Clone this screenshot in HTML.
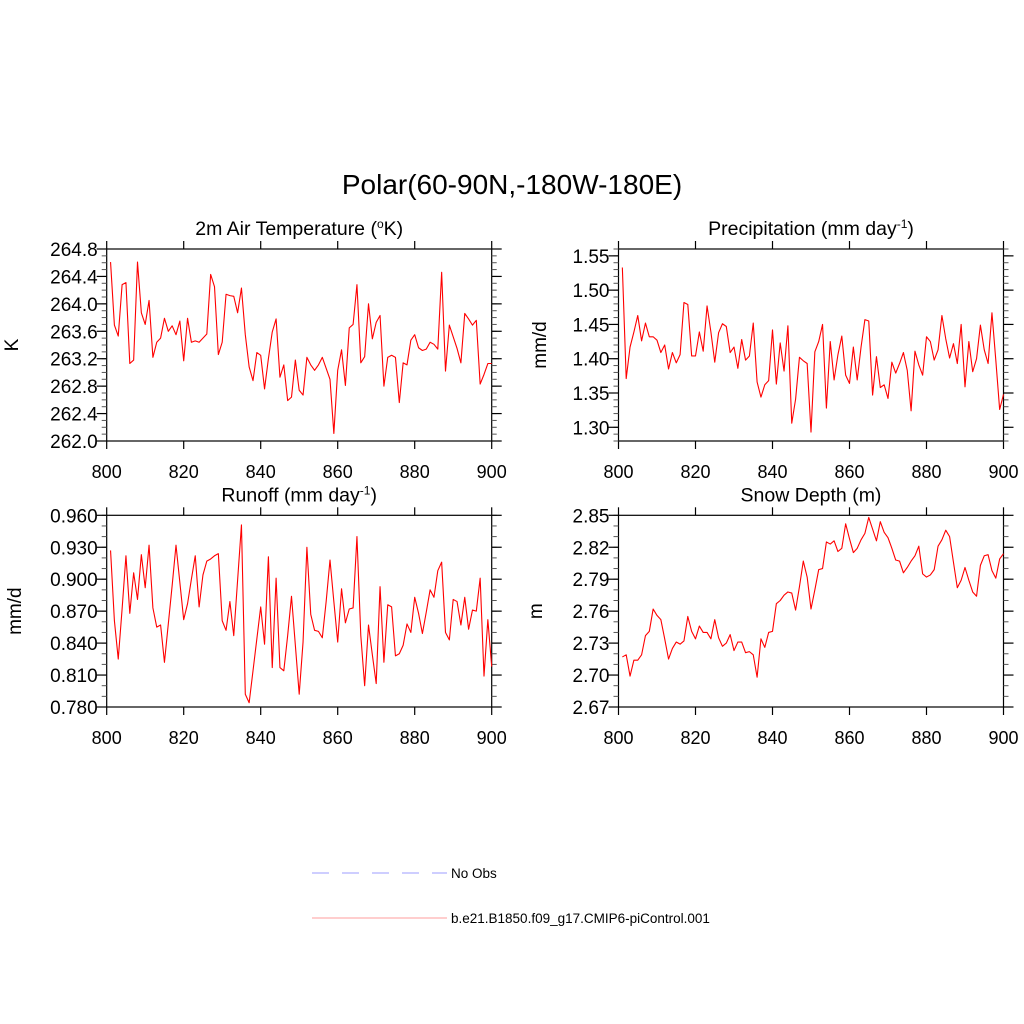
<!DOCTYPE html>
<html><head><meta charset="utf-8"><style>
html,body{margin:0;padding:0;background:#fff;}
svg{display:block;font-family:"Liberation Sans",sans-serif;}
</style></head><body>
<svg id="chart" width="1024" height="1024" viewBox="0 0 1024 1024" xmlns="http://www.w3.org/2000/svg">
<text x="512" y="194" font-size="28" text-anchor="middle">Polar(60-90N,-180W-180E)</text>
<g>
<line x1="312" y1="873" x2="447" y2="873" stroke="#b0b0ff" stroke-width="1.3" stroke-dasharray="17,13"/>
<text x="451" y="878" font-size="13.5">No Obs</text>
<line x1="312" y1="918" x2="447" y2="918" stroke="#ffb0b0" stroke-width="1.3"/>
<text x="451" y="923" font-size="13.5">b.e21.B1850.f09_g17.CMIP6-piControl.001</text>
</g>
</svg>
<script>
const years = [];
for (let y = 801; y <= 900; y++) years.push(y);
const xTicks = [800, 820, 840, 860, 880, 900];

const tempValues = [264.61,263.69,263.53,264.28,264.31,263.13,263.18,264.61,263.87,263.70,264.05,263.22,263.44,263.50,263.79,263.60,263.68,263.55,263.75,263.17,263.79,263.44,263.46,263.44,263.50,263.56,264.43,264.25,263.26,263.44,264.14,264.12,264.11,263.87,264.23,263.55,263.08,262.88,263.29,263.25,262.76,263.20,263.59,263.78,262.93,263.11,262.59,262.64,263.18,262.74,262.67,263.22,263.11,263.03,263.11,263.22,263.06,262.90,262.11,263.03,263.33,262.81,263.65,263.70,264.28,263.14,263.23,264.00,263.49,263.73,263.83,262.80,263.22,263.25,263.22,262.56,263.14,263.11,263.47,263.55,263.36,263.32,263.34,263.44,263.41,263.34,264.46,263.02,263.69,263.52,263.35,263.14,263.86,263.78,263.69,263.76,262.83,262.97,263.13,263.13];
const precipValues = [1.533,1.371,1.417,1.439,1.463,1.426,1.452,1.432,1.432,1.427,1.409,1.420,1.385,1.409,1.394,1.406,1.482,1.479,1.404,1.404,1.439,1.411,1.477,1.439,1.395,1.438,1.451,1.447,1.409,1.417,1.386,1.428,1.398,1.404,1.452,1.366,1.344,1.362,1.368,1.442,1.363,1.423,1.382,1.448,1.306,1.341,1.402,1.397,1.393,1.293,1.410,1.425,1.450,1.328,1.425,1.369,1.406,1.433,1.376,1.364,1.417,1.369,1.417,1.457,1.455,1.347,1.403,1.358,1.362,1.342,1.395,1.379,1.393,1.409,1.383,1.324,1.411,1.391,1.376,1.432,1.425,1.398,1.413,1.463,1.429,1.401,1.422,1.393,1.450,1.359,1.425,1.381,1.400,1.449,1.413,1.393,1.467,1.398,1.326,1.348];
const runoffValues = [0.927,0.861,0.825,0.872,0.922,0.868,0.906,0.881,0.923,0.892,0.932,0.873,0.855,0.857,0.822,0.858,0.894,0.932,0.897,0.862,0.877,0.900,0.922,0.874,0.904,0.917,0.919,0.922,0.924,0.861,0.852,0.879,0.847,0.899,0.951,0.792,0.784,0.814,0.844,0.874,0.839,0.921,0.817,0.901,0.817,0.814,0.847,0.884,0.838,0.792,0.841,0.930,0.867,0.852,0.851,0.845,0.879,0.918,0.879,0.841,0.891,0.859,0.872,0.873,0.940,0.847,0.800,0.857,0.829,0.802,0.893,0.822,0.876,0.874,0.828,0.830,0.838,0.858,0.850,0.883,0.868,0.849,0.869,0.890,0.883,0.908,0.916,0.850,0.843,0.881,0.879,0.857,0.883,0.853,0.871,0.870,0.901,0.809,0.862,0.818];
const snowValues = [2.717,2.719,2.699,2.714,2.714,2.719,2.737,2.741,2.762,2.756,2.752,2.734,2.715,2.725,2.731,2.729,2.732,2.755,2.741,2.734,2.746,2.740,2.740,2.734,2.752,2.735,2.727,2.730,2.738,2.723,2.731,2.731,2.721,2.722,2.719,2.698,2.734,2.726,2.740,2.741,2.767,2.770,2.775,2.778,2.777,2.761,2.783,2.807,2.792,2.762,2.780,2.799,2.800,2.825,2.823,2.826,2.816,2.819,2.842,2.828,2.815,2.819,2.827,2.833,2.848,2.837,2.826,2.844,2.834,2.829,2.819,2.808,2.807,2.796,2.801,2.807,2.812,2.821,2.795,2.792,2.794,2.799,2.821,2.827,2.836,2.830,2.806,2.782,2.789,2.801,2.789,2.778,2.774,2.803,2.812,2.813,2.798,2.791,2.809,2.814];

const tempTicks = [262.0,262.4,262.8,263.2,263.6,264.0,264.4,264.8];
const precipTicks = [1.30,1.35,1.40,1.45,1.50,1.55];
const runoffTicks = [0.780,0.810,0.840,0.870,0.900,0.930,0.960];
const snowTicks = [2.67,2.70,2.73,2.76,2.79,2.82,2.85];

const NS = 'http://www.w3.org/2000/svg';
const svg = document.getElementById('chart');
function mk(tag, attrs, parent) {
  const e = document.createElementNS(NS, tag);
  for (const k in attrs) e.setAttribute(k, attrs[k]);
  parent.appendChild(e);
  return e;
}
const panels = [
  {key:'temperature', L:106.7, R:491.7, T:249, B:441, ymin:262.0, ymax:264.8, minor:0.1, ticks:tempTicks, dec:1, vals:tempValues, ylab:'K', ylx:18, title:['2m Air Temperature (','o','K)']},
  {key:'precipitation', L:618.5, R:1003.5, T:249, B:441, ymin:1.28, ymax:1.56, minor:0.01, ticks:precipTicks, dec:2, vals:precipValues, ylab:'mm/d', ylx:546, title:['Precipitation (mm day','-1',')']},
  {key:'runoff', L:106.7, R:491.7, T:515.3, B:707, ymin:0.78, ymax:0.96, minor:0.01, ticks:runoffTicks, dec:3, vals:runoffValues, ylab:'mm/d', ylx:21, title:['Runoff (mm day','-1',')']},
  {key:'snow-depth', L:618.5, R:1003.5, T:515.3, B:707, ymin:2.67, ymax:2.85, minor:0.01, ticks:snowTicks, dec:2, vals:snowValues, ylab:'m', ylx:542, title:['Snow Depth (m)','','']}
];
panels.forEach(p => {
  const g = mk('g', {}, svg);
  
  
  const xs = v => p.L + (v - 800) / 100 * (p.R - p.L);
  const ys = v => p.B - (v - p.ymin) / (p.ymax - p.ymin) * (p.B - p.T);
  const t = mk('text', {x:(p.L+p.R)/2, y:p.T-14, 'font-size':19.5, 'text-anchor':'middle'}, g);
  
  
  t.appendChild(document.createTextNode(p.title[0]));
  if (p.title[1]) {
    const s = mk('tspan', {dy:-7, 'font-size':12}, t);
    s.textContent = p.title[1];
    const r = mk('tspan', {dy:7}, t);
    r.textContent = p.title[2];
  }
  const fr = mk('rect', {x:p.L, y:p.T, width:p.R-p.L, height:p.B-p.T, fill:'none', stroke:'#000', 'stroke-width':1.2}, g);
  
  
  xTicks.forEach(v => {
    const x = xs(v);
    mk('line', {x1:x, y1:p.B, x2:x, y2:p.B+8, stroke:'#000', 'stroke-width':1.2}, g);
    mk('line', {x1:x, y1:p.T, x2:x, y2:p.T-8, stroke:'#000', 'stroke-width':1.2}, g);
    const lb = mk('text', {x:x, y:p.B+37, 'font-size':18, 'text-anchor':'middle'}, g);
    
    
    lb.textContent = v;
  });
  const n = Math.round((p.ymax - p.ymin) / p.minor);
  for (let i = 0; i <= n; i++) {
    const y = ys(p.ymin + i * p.minor);
    mk('line', {x1:p.L, y1:y, x2:p.L-5, y2:y, stroke:'#555', 'stroke-width':1}, g);
    mk('line', {x1:p.R, y1:y, x2:p.R+5, y2:y, stroke:'#555', 'stroke-width':1}, g);
  }
  p.ticks.forEach(v => {
    const y = ys(v);
    mk('line', {x1:p.L, y1:y, x2:p.L-10, y2:y, stroke:'#000', 'stroke-width':1.2}, g);
    mk('line', {x1:p.R, y1:y, x2:p.R+10, y2:y, stroke:'#000', 'stroke-width':1.2}, g);
    const lb = mk('text', {x:p.L-9, y:y+7, 'font-size':19, 'text-anchor':'end'}, g);
    
    
    lb.textContent = v.toFixed(p.dec);
  });
  const cy = (p.T + p.B) / 2;
  const yl = mk('text', {x:p.ylx, y:cy, 'font-size':19, 'text-anchor':'middle', transform:'rotate(-90 '+p.ylx+' '+cy+')'}, g);
  
  
  yl.textContent = p.ylab;
  const pts = p.vals.map((v, i) => xs(years[i]).toFixed(2) + ',' + ys(v).toFixed(2)).join(' ');
  const pl = mk('polyline', {points:pts, fill:'none', stroke:'#ff0000', 'stroke-width':1.1, 'stroke-linejoin':'round'}, g);
  
  
});
</script>
</body></html>
